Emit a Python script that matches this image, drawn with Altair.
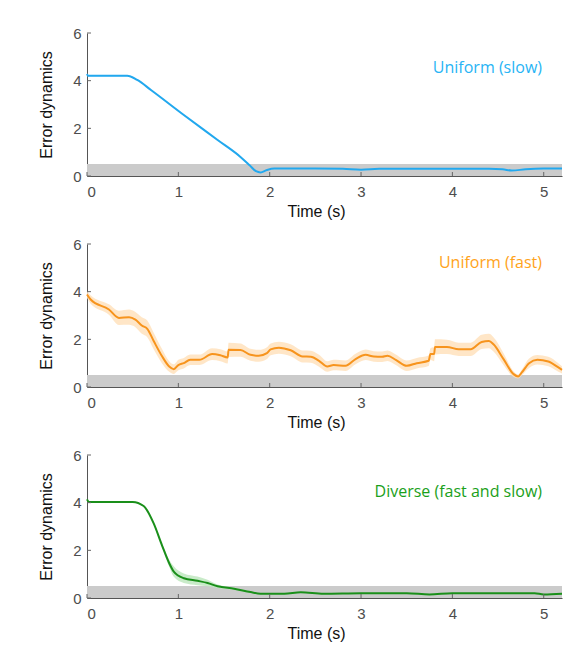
import altair as alt
import pandas as pd

# ---------------- data ----------------
x_ticks = [0, 1, 2, 3, 4, 5]
y_ticks = [0, 2, 4, 6]

slow_t = [0.0, 0.01, 0.2, 0.44, 0.55, 0.7, 1.06, 1.43, 1.68, 1.78, 1.85, 1.9, 1.97, 2.05, 2.5, 2.8,
          3.0, 3.2, 3.6, 4.0, 4.4, 4.55, 4.65, 4.8, 5.0, 5.2]
slow_m = [4.28, 4.21, 4.21, 4.21, 4.03, 3.61, 2.56, 1.51, 0.8, 0.45, 0.2, 0.15, 0.25, 0.31, 0.31, 0.30,
          0.26, 0.30, 0.30, 0.30, 0.30, 0.28, 0.23, 0.28, 0.31, 0.31]
slow_h = [0.03] * len(slow_t)

fast_t = [0.0, 0.04, 0.24, 0.35, 0.46, 0.53, 0.6, 0.66, 0.73, 0.82, 0.9, 0.95, 1.0, 1.06, 1.13,
          1.23, 1.37, 1.46, 1.54, 1.55, 1.68, 1.79, 1.88, 1.97, 2.01, 2.1, 2.23, 2.36, 2.45, 2.54,
          2.63, 2.7, 2.83, 2.94, 3.05, 3.14, 3.23, 3.29, 3.38, 3.5, 3.61, 3.74, 3.76, 3.8, 3.81,
          3.94, 4.07, 4.2, 4.32, 4.4, 4.45, 4.56, 4.67, 4.72, 4.76, 4.84, 4.93, 5.05, 5.16, 5.2]
fast_m = [3.88, 3.67, 3.25, 2.9, 2.93, 2.83, 2.58, 2.44, 1.93, 1.3, 0.86, 0.75, 0.92, 1.0, 1.14,
          1.14, 1.38, 1.33, 1.24, 1.56, 1.55, 1.35, 1.31, 1.42, 1.58, 1.65, 1.54, 1.28, 1.27, 1.1,
          0.86, 0.92, 0.89, 1.17, 1.35, 1.28, 1.27, 1.31, 1.14, 0.89, 1.0, 1.1, 1.38, 1.38, 1.68,
          1.68, 1.58, 1.58, 1.89, 1.93, 1.79, 1.17, 0.54, 0.44, 0.61, 1.0, 1.14, 1.07, 0.82, 0.72]
fast_h = [0.15, 0.18, 0.22, 0.3, 0.32, 0.32, 0.35, 0.35, 0.35, 0.3, 0.22, 0.2, 0.22, 0.22, 0.22,
          0.22, 0.25, 0.25, 0.25, 0.3, 0.28, 0.25, 0.25, 0.25, 0.25, 0.25, 0.25, 0.25, 0.25, 0.25,
          0.22, 0.22, 0.22, 0.22, 0.22, 0.22, 0.22, 0.22, 0.22, 0.22, 0.22, 0.22, 0.25, 0.3, 0.32,
          0.3, 0.28, 0.28, 0.3, 0.3, 0.3, 0.25, 0.12, 0.08, 0.12, 0.2, 0.2, 0.2, 0.18, 0.15]

div_t = [0.0, 0.02, 0.5, 0.62, 0.73, 0.82, 0.9, 0.95, 1.06, 1.21, 1.32, 1.43, 1.61, 1.79, 1.9,
         2.16, 2.34, 2.59, 3.0, 3.5, 3.75, 4.0, 4.5, 4.9, 5.0, 5.2]
div_m = [4.14, 4.03, 4.03, 3.86, 3.13, 2.22, 1.46, 1.11, 0.83, 0.72, 0.63, 0.49, 0.39, 0.25, 0.18,
         0.18, 0.24, 0.18, 0.2, 0.2, 0.15, 0.2, 0.2, 0.2, 0.15, 0.18]
div_h = [0.02, 0.02, 0.02, 0.03, 0.05, 0.08, 0.15, 0.22, 0.2, 0.18, 0.14, 0.08, 0.05, 0.03, 0.02,
         0.02, 0.02, 0.02, 0.02, 0.02, 0.02, 0.02, 0.02, 0.02, 0.02, 0.02]

labels = ["Uniform (slow)", "Uniform (fast)", "Diverse (fast and slow)"]
line_colors = ["#22a8ee", "#f7941d", "#1a8f1a"]
band_colors = ["#bfe6fb", "#ffe2bd", "#bfe8bf"]
text_colors = ["#28b4f5", "#ffa31a", "#1aa01a"]
label_y = [35, 19, 37]

W, H = 475, 143
XMAX = 5.2

xs = alt.Scale(domain=[0, XMAX], nice=False, zero=False)
ys = alt.Scale(domain=[0, 6], nice=False)

def panel(t, m, h, idx):
    df = pd.DataFrame({"t": t, "m": m,
                       "lo": [a - b for a, b in zip(m, h)],
                       "hi": [a + b for a, b in zip(m, h)]})
    band_df = pd.DataFrame({"x0": [0], "x1": [XMAX], "y0": [0], "y1": [0.5]})
    xt = pd.DataFrame({"v": x_ticks})
    yt = pd.DataFrame({"v": y_ticks})

    xaxis = alt.Axis(values=x_ticks, title="Time (s)", format="d", titleX=229)
    yaxis = alt.Axis(values=y_ticks, title="Error dynamics", format="d")

    grey = alt.Chart(band_df).mark_rect(color="#cbcbcb").encode(
        x=alt.X("x0:Q", scale=xs, axis=xaxis), x2="x1:Q",
        y=alt.Y("y0:Q", scale=ys, axis=yaxis), y2="y1:Q")
    area = alt.Chart(df).mark_area(color=band_colors[idx], opacity=0.85,
                                   interpolate="monotone").encode(
        x=alt.X("t:Q", scale=xs), y=alt.Y("lo:Q", scale=ys), y2="hi:Q")
    line = alt.Chart(df).mark_line(color=line_colors[idx], strokeWidth=2,
                                   interpolate="monotone").encode(
        x=alt.X("t:Q", scale=xs), y=alt.Y("m:Q", scale=ys))
    xtick = alt.Chart(xt).mark_rule(color="#666666", strokeWidth=1).encode(
        x=alt.X("v:Q", scale=xs), y=alt.value(H), y2=alt.value(H - 4))
    ytick = alt.Chart(yt).mark_rule(color="#666666", strokeWidth=1).encode(
        y=alt.Y("v:Q", scale=ys), x=alt.value(0), x2=alt.value(4))
    txt = alt.Chart(pd.DataFrame({"l": [labels[idx]]})).mark_text(
        align="right", baseline="middle", font="Open Sans", fontSize=16,
        color=text_colors[idx]).encode(
        x=alt.value(455), y=alt.value(label_y[idx]), text="l:N")
    return alt.layer(grey, area, line, xtick, ytick, txt).properties(width=W, height=H)

chart = alt.vconcat(
    panel(slow_t, slow_m, slow_h, 0),
    panel(fast_t, fast_m, fast_h, 1),
    panel(div_t, div_m, div_h, 2),
    spacing=68, bounds="flush",
).properties(
    padding={"left": 30, "top": 18, "right": 5, "bottom": 5}
).configure_view(stroke=None).configure_axis(
    grid=False, ticks=False, tickSize=0,
    domainColor="#555555", domainWidth=1,
    labelFont="Liberation Sans", labelFontSize=15, labelColor="#4d4d4d",
    titleFont="Liberation Sans", titleFontSize=16, titleColor="#111111",
    titleFontWeight="normal",
).configure_axisX(
    labelPadding=8, titlePadding=4
).configure_axisY(
    labelPadding=6, titlePadding=18
)

chart.save("out.html", embed_options={"renderer": "svg", "actions": False})
